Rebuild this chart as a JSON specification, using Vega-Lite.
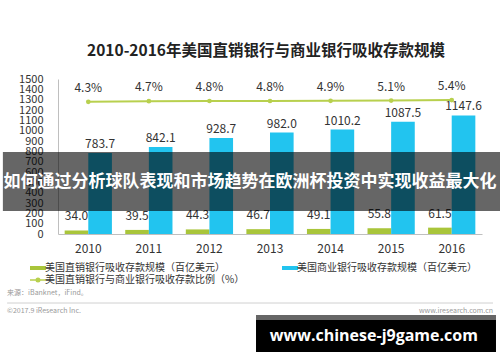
{
  "$schema": "https://vega.github.io/schema/vega-lite/v6.json",
  "width": 424,
  "height": 155,
  "autosize": {"type": "none"},
  "padding": {"left": 58, "top": 79, "right": 18, "bottom": 128},
  "background": "#ffffff",
  "config": {"view": {"stroke": null}, "font": "Noto Sans CJK SC"},
  "title": {"text": "2010-2016年美国直销银行与商业银行吸收存款规模", "anchor": "middle", "fontSize": 15.5, "font": "Noto Sans CJK SC", "fontWeight": "bold", "color": "#222222", "offset": 14, "dx": -4},
  "datasets": {
    "bars": [
      {"year": "2010", "series": "美国直销银行吸收存款规模（百亿美元）", "value": 34.0},
      {"year": "2011", "series": "美国直销银行吸收存款规模（百亿美元）", "value": 39.5},
      {"year": "2012", "series": "美国直销银行吸收存款规模（百亿美元）", "value": 44.3},
      {"year": "2013", "series": "美国直销银行吸收存款规模（百亿美元）", "value": 46.7},
      {"year": "2014", "series": "美国直销银行吸收存款规模（百亿美元）", "value": 49.1},
      {"year": "2015", "series": "美国直销银行吸收存款规模（百亿美元）", "value": 55.8},
      {"year": "2016", "series": "美国直销银行吸收存款规模（百亿美元）", "value": 61.5},
      {"year": "2010", "series": "美国商业银行吸收存款规模（百亿美元）", "value": 783.7},
      {"year": "2011", "series": "美国商业银行吸收存款规模（百亿美元）", "value": 842.1},
      {"year": "2012", "series": "美国商业银行吸收存款规模（百亿美元）", "value": 928.7},
      {"year": "2013", "series": "美国商业银行吸收存款规模（百亿美元）", "value": 982.0},
      {"year": "2014", "series": "美国商业银行吸收存款规模（百亿美元）", "value": 1010.2},
      {"year": "2015", "series": "美国商业银行吸收存款规模（百亿美元）", "value": 1087.5},
      {"year": "2016", "series": "美国商业银行吸收存款规模（百亿美元）", "value": 1147.6}
    ],
    "ratio": [
      {"year": "2010", "ratio": 0.043},
      {"year": "2011", "ratio": 0.047},
      {"year": "2012", "ratio": 0.048},
      {"year": "2013", "ratio": 0.048},
      {"year": "2014", "ratio": 0.049},
      {"year": "2015", "ratio": 0.051},
      {"year": "2016", "ratio": 0.054}
    ]
  },
  "resolve": {"scale": {"x": "independent", "y": "independent"}},
  "layer": [
    {
      "data": {"name": "bars"},
      "encoding": {
        "x": {"field": "year", "type": "ordinal", "scale": {"type": "band", "paddingInner": 0.22, "paddingOuter": 0.11},
          "axis": {"title": null, "ticks": false, "domainColor": "#bfbfbf", "labelPadding": 9, "labelFontSize": 12, "labelColor": "#333333", "labelAngle": 0}},
        "xOffset": {"field": "series", "scale": {"domain": ["美国直销银行吸收存款规模（百亿美元）", "美国商业银行吸收存款规模（百亿美元）"], "paddingInner": 0, "paddingOuter": 0}},
        "y": {"field": "value", "type": "quantitative", "scale": {"domain": [0, 1500], "nice": false},
          "axis": {"title": null, "ticks": false, "grid": false, "format": "d", "domainColor": "#bfbfbf", "values": [0,100,200,300,400,500,600,700,800,900,1000,1100,1200,1300,1400,1500], "labelOverlap": false, "labelPadding": 15, "labelFontSize": 11, "labelColor": "#333333"}}
      },
      "layer": [
        {
          "mark": {"type": "bar"},
          "encoding": {
            "color": {"field": "series", "type": "nominal",
              "scale": {"domain": ["美国直销银行吸收存款规模（百亿美元）", "美国商业银行吸收存款规模（百亿美元）", "美国直销银行与商业银行吸收存款比例（%）"], "range": ["#a9c53a", "#22c4ef", "#b8d04e"]},
              "legend": {"orient": "none", "legendX": -25, "legendY": 184, "direction": "horizontal", "columns": 2, "title": null, "labelFontSize": 10, "labelFont": "Noto Sans CJK SC", "labelColor": "#333333", "symbolSize": 256, "labelOffset": 2, "columnPadding": 37, "rowPadding": 2, "padding": 0, "labelLimit": 300,
                "values": ["美国直销银行吸收存款规模（百亿美元）", "美国商业银行吸收存款规模（百亿美元）", "美国直销银行与商业银行吸收存款比例（%）"],
                "encode": {"symbols": {"update": {
                  "shape": {"signal": "datum.value === '美国直销银行与商业银行吸收存款比例（%）' ? 'M-1,0L1,0M0.22,0A0.22,0.22,0,1,1,-0.22,0A0.22,0.22,0,1,1,0.22,0' : 'M-1,-0.25L1,-0.25L1,0.25L-1,0.25Z'"},
                  "fill": {"scale": "color", "field": "value"},
                  "stroke": {"scale": "color", "field": "value"},
                  "strokeWidth": {"signal": "datum.value === '美国直销银行与商业银行吸收存款比例（%）' ? 1.5 : 0"},
                  "opacity": {"value": 1}
                }}}}
            }
          }
        },
        {
          "transform": [{"filter": "datum.series === '美国商业银行吸收存款规模（百亿美元）'"}],
          "mark": {"type": "text", "baseline": "bottom", "dy": -2, "fontSize": 12, "color": "#333333"},
          "encoding": {"text": {"field": "value", "type": "quantitative", "format": ".1f"}}
        },
        {
          "transform": [{"filter": "datum.series === '美国直销银行吸收存款规模（百亿美元）'"}],
          "mark": {"type": "text", "baseline": "bottom", "dy": -7, "fontSize": 12, "color": "#333333"},
          "encoding": {"text": {"field": "value", "type": "quantitative", "format": ".1f"}}
        }
      ]
    },
    {
      "data": {"name": "ratio"},
      "encoding": {
        "x": {"field": "year", "type": "ordinal", "scale": {"type": "band", "paddingInner": 0.22, "paddingOuter": 0.11}, "axis": null},
        "y": {"field": "ratio", "type": "quantitative", "scale": {"domain": [-0.81, 0.19], "nice": false, "zero": false}, "axis": null}
      },
      "layer": [
        {"mark": {"type": "line", "strokeWidth": 2}, "encoding": {"color": {"datum": "美国直销银行与商业银行吸收存款比例（%）"}}},
        {"mark": {"type": "point", "filled": true, "size": 22, "opacity": 1}, "encoding": {"color": {"datum": "美国直销银行与商业银行吸收存款比例（%）"}}},
        {"mark": {"type": "text", "baseline": "middle", "dy": -14, "fontSize": 12, "color": "#333333"}, "encoding": {"text": {"field": "ratio", "type": "quantitative", "format": ".1%"}}}
      ]
    },
    {
      "data": {"values": [{}]},
      "layer": [
        {"mark": {"type": "rect", "color": "#000000", "opacity": 0.6},
          "encoding": {
            "x": {"datum": -0.13, "type": "quantitative", "scale": {"domain": [0, 1], "nice": false, "zero": false}, "axis": null},
            "x2": {"datum": 1.05},
            "y": {"datum": 793, "type": "quantitative", "scale": {"domain": [0, 1500], "nice": false}, "axis": null},
            "y2": {"datum": 223}
          }},
        {"mark": {"type": "text", "text": "如何通过分析球队表现和市场趋势在欧洲杯投资中实现收益最大化", "font": "Noto Sans CJK SC", "fontWeight": "bold", "fontSize": 17, "color": "#ffffff", "align": "center", "baseline": "middle"},
          "encoding": {"x": {"datum": 0.453, "type": "quantitative"}, "y": {"datum": 503, "type": "quantitative"}}},
        {"mark": {"type": "text", "text": "来源：iBanknet，iFind。", "fontSize": 7, "color": "#999999", "align": "left", "baseline": "middle"},
          "encoding": {"x": {"datum": -0.12, "type": "quantitative"}, "y": {"datum": -571, "type": "quantitative"}}},
        {"mark": {"type": "rule", "color": "#d0d0d0", "strokeWidth": 1},
          "encoding": {"x": {"datum": -0.12, "type": "quantitative"}, "x2": {"datum": 1.026}, "y": {"datum": -668, "type": "quantitative"}}},
        {"mark": {"type": "text", "text": "©2017.9 iResearch Inc.", "fontSize": 7, "color": "#999999", "align": "left", "baseline": "middle"},
          "encoding": {"x": {"datum": -0.12, "type": "quantitative"}, "y": {"datum": -745, "type": "quantitative"}}},
        {"mark": {"type": "text", "text": "www.iresearch.com.cn", "fontSize": 7, "color": "#999999", "align": "right", "baseline": "middle"},
          "encoding": {"x": {"datum": 1.026, "type": "quantitative"}, "y": {"datum": -745, "type": "quantitative"}}},
        {"mark": {"type": "rect", "color": "#666666", "opacity": 1},
          "encoding": {"x": {"datum": 0.467, "type": "quantitative"}, "x2": {"datum": 1.033}, "y": {"datum": -784, "type": "quantitative"}, "y2": {"datum": -832}}},
        {"mark": {"type": "rect", "color": "#000000", "opacity": 1},
          "encoding": {"x": {"datum": 0.467, "type": "quantitative"}, "x2": {"datum": 1.033}, "y": {"datum": -832, "type": "quantitative"}, "y2": {"datum": -1142}}},
        {"mark": {"type": "text", "text": "www.chinese-j9game.com", "font": "Open Sans", "fontWeight": "bold", "fontSize": 16, "color": "#ffffff", "align": "center", "baseline": "middle"},
          "encoding": {"x": {"datum": 0.745, "type": "quantitative"}, "y": {"datum": -987, "type": "quantitative"}}}
      ]
    }
  ]
}
